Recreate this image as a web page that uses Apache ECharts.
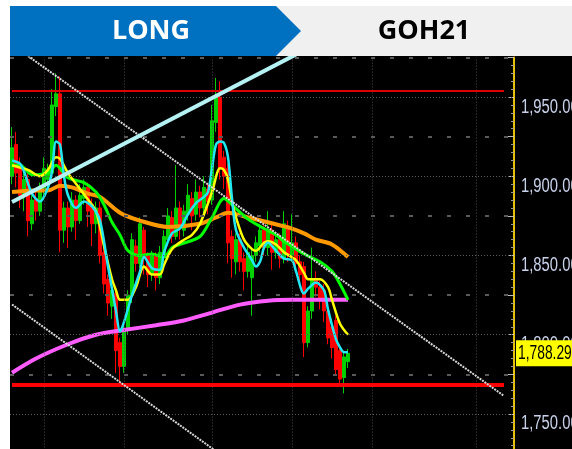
<!DOCTYPE html>
<html>
<head>
<meta charset="utf-8">
<title>GOH21</title>
<script src="https://cdn.jsdelivr.net/npm/echarts@6/dist/echarts.min.js"></script>
<style>
html,body{margin:0;padding:0;background:#fff;}
#main{width:572px;height:449px;}
</style>
</head>
<body>
<div id="main"></div>
<script>
// candles: [open, close, low, high]
var candles = [
  [1900,1918,1895,1931],[1920,1902,1893,1928],[1906,1888,1880,1912],[1888,1898,1878,1903],
  [1898,1872,1862,1902],[1870,1885,1866,1888],[1886,1878,1872,1890],[1878,1893,1875,1896],
  [1892,1905,1888,1912],[1898,1904,1890,1908],[1902,1945,1900,1955],[1944,1952,1938,1965],
  [1952,1866,1852,1963],[1866,1880,1858,1884],[1880,1868,1855,1884],[1868,1885,1865,1890],
  [1885,1872,1860,1888],[1872,1888,1870,1895],[1886,1893,1882,1898],[1893,1878,1868,1896],
  [1882,1870,1856,1886],[1870,1880,1864,1884],[1880,1850,1845,1884],[1852,1832,1826,1856],
  [1835,1820,1812,1838],[1818,1828,1810,1832],[1826,1790,1776,1830],[1795,1780,1767,1798],
  [1780,1803,1776,1806],[1803,1825,1800,1828],[1825,1860,1820,1864],[1856,1845,1840,1860],
  [1845,1870,1842,1874],[1866,1848,1838,1868],[1850,1838,1830,1852],[1838,1850,1834,1853],
  [1850,1836,1828,1852],[1836,1852,1832,1856],[1850,1862,1846,1866],[1860,1875,1856,1880],
  [1874,1862,1858,1878],[1862,1880,1860,1907],[1880,1868,1860,1884],[1866,1878,1862,1882],
  [1876,1888,1872,1895],[1886,1875,1866,1890],[1876,1890,1872,1898],[1890,1880,1874,1894],
  [1880,1893,1876,1900],[1892,1884,1876,1896],[1885,1935,1882,1945],[1934,1950,1928,1962],
  [1950,1905,1898,1960],[1912,1900,1892,1916],[1905,1858,1845,1908],[1862,1848,1836,1866],
  [1846,1860,1838,1864],[1860,1846,1840,1864],[1848,1840,1828,1852],[1840,1852,1836,1856],
  [1836,1850,1812,1854],[1850,1858,1846,1862],[1856,1866,1852,1870],[1866,1855,1850,1870],
  [1855,1866,1850,1878],[1866,1852,1841,1870],[1852,1860,1848,1864],[1860,1848,1842,1864],
  [1848,1870,1845,1878],[1868,1850,1846,1872],[1850,1858,1846,1876],[1858,1845,1840,1862],
  [1846,1838,1830,1850],[1843,1795,1786,1846],[1795,1815,1792,1818],[1815,1835,1810,1855],
  [1835,1830,1824,1840],[1830,1822,1816,1834],[1828,1815,1808,1832],[1815,1798,1794,1820],
  [1805,1792,1785,1810],[1809,1778,1774,1812],[1790,1772,1768,1794],[1773,1786,1763,1790],
  [1783,1788.29,1779,1791]
];

// moving averages: [slot, price]
var maFast = [[0,1910],[2,1908],[3,1903],[5,1889],[7,1884],[9,1893],[10,1903],[11,1922],[12,1920],[13,1900],
  [14,1888],[16,1880],[18,1884],[20,1881],[22,1872],[24,1843],[26,1815],[27,1802],[28,1808],[30,1825],
  [32,1840],[33,1849],[35,1842],[37,1841],[38,1852],[40,1864],[42,1867],[44,1876],[46,1883],[48,1887],
  [49,1890],[50,1905],[51,1920],[52,1922],[53,1921],[54,1912],[55,1886],[56,1866],[58,1855],[60,1847],
  [61,1843],[62,1846],[63,1855],[64,1858],[66,1853],[68,1848],[70,1847],[71,1840],[73,1826],[74,1829],
  [76,1833],[78,1828],[79,1816],[81,1797],[82,1792],[83,1789],[84,1789]];
var maYellow = [[0,1907],[4,1904],[7,1900],[9,1904],[11,1912],[12,1911],[14,1902],[17,1892],[20,1882],[21,1878],
  [22,1868],[23,1856],[25,1835],[26,1828],[27,1822],[29,1822],[31,1830],[33,1843],[35,1838],[37,1838],
  [38,1844],[40,1854],[43,1860],[45,1863],[47,1870],[50,1890],[52,1905],[53,1904],[54,1898],[55,1884],
  [56,1874],[58,1860],[60,1854],[61,1853],[63,1858],[64,1859],[66,1857],[68,1852],[71,1847],[73,1839],
  [74,1835],[77,1835],[79,1830],[80,1822],[82,1807],[84,1800]];
var maGreen = [[0,1907],[2,1907],[5,1901],[9,1902],[11,1907],[14,1899],[18,1896],[21,1890],[23,1882],[25,1871],
  [27,1863],[29,1853],[32,1850],[35,1851],[38,1849],[40,1855],[42,1857],[47,1862],[50,1874],[53,1886],
  [55,1882],[59,1873],[63,1867],[66,1863],[68,1859],[73,1851],[77,1846],[80,1840],[82,1832],[84,1822]];
var maOrange = [[0,1890],[5,1891],[9,1891],[12,1894],[15,1893],[19,1889],[22,1887],[27,1877],[32,1872],[39,1868],
  [47,1870],[51,1874],[54,1877],[59,1874],[64,1871],[70,1867],[73,1864],[76,1860],[80,1857],[84,1849]];
var maMagenta = [[0,1776],[6,1785],[14,1794],[21,1800],[28,1803],[36,1806],[43,1809],[50,1814],[57,1819],
  [64,1821.5],[70,1822],[84,1822]];

// drawn lines
var resistance = 1953.8;
var support = 1768.3;
var levelSpan = [0, 123];
var riseLine = [[0,1883.8],[71,1976.9]];
var channelTop = [[4,1975.9],[123,1761.4]];
var channelBottom = [[0,1819.1],[52,1724.7]];

// axis
var yTicks = [1750, 1800, 1850, 1900, 1950];
var minorLevels = [1775, 1825, 1875, 1925, 1975];
var dayBreaks = [8, 28, 50, 70, 90, 116];
var slotCount = 126;
var lastPrice = 1788.29;

var categories = [];
for (var i = 0; i < slotCount; i++) { categories.push('s' + i); }

// Arial Narrow look: Liberation Sans squeezed sideways
var labelFont = '20px "Liberation Sans", Arial, sans-serif';

var chartApp = {
  chart: null,
  init: function () {
    chartApp.chart = echarts.init(document.getElementById('main'));
    chartApp.chart.setOption(chartApp.buildOption());
    chartApp.priceLabels();
  },
  fmt: function (v) {
    var p = v.toFixed(2).split('.');
    p[0] = p[0].replace(/\B(?=(\d{3})+(?!\d))/g, ',');
    return p.join('.');
  },
  // a plain line between two points
  segment: function (pts, color, width, type, z) {
    return {
      type: 'line', data: pts, z: z || 6, silent: true, showSymbol: false, symbol: 'none',
      lineStyle: { color: color, width: width, type: type || 'solid' }
    };
  },
  maLine: function (pts, color, width) {
    return {
      type: 'line', data: pts, z: 4, silent: true, showSymbol: false, symbol: 'none', smooth: 0.3,
      lineStyle: { color: color, width: width }
    };
  },
  header: function () {
    return [
      { type: 'rect', shape: { x: 0, y: 0, width: 572, height: 56 }, style: { fill: '#fff' }, z: 50 },
      { type: 'rect', shape: { x: 0, y: 0, width: 10, height: 449 }, style: { fill: '#fff' }, z: 50 },
      { type: 'rect', shape: { x: 270, y: 6, width: 302, height: 50 }, style: { fill: '#f0f0f0' }, z: 51 },
      { type: 'polygon', shape: { points: [[10, 6], [276, 6], [301, 31], [276, 56], [10, 56]] },
        style: { fill: '#0070c0' }, z: 52 },
      { type: 'text', x: 151, y: 31, z: 53,
        style: { text: 'LONG', fill: '#fff', font: 'bold 27px "Open Sans", sans-serif', align: 'center', verticalAlign: 'middle' } },
      { type: 'text', x: 424, y: 31, z: 53,
        style: { text: 'GOH21', fill: '#000', font: 'bold 27px "Open Sans", sans-serif', align: 'center', verticalAlign: 'middle' } }
    ];
  },
  // axis labels + last price tag, placed with the axis scale
  priceLabels: function () {
    var chart = chartApp.chart;
    var g = chartApp.header();
    yTicks.forEach(function (v) {
      var py = chart.convertToPixel({ yAxisIndex: 0 }, v);
      g.push({ type: 'text', x: 521, y: py, scaleX: 0.74, z: 60, silent: true,
        style: { text: chartApp.fmt(v), fill: '#c8d2ea', font: labelFont, verticalAlign: 'top' } });
    });
    var tagY = chart.convertToPixel({ yAxisIndex: 0 }, lastPrice);
    g.push({ type: 'text', x: 516, y: tagY, scaleX: 0.69, z: 61, silent: true,
      style: { text: chartApp.fmt(lastPrice), fill: '#000', font: labelFont, verticalAlign: 'middle',
        backgroundColor: '#ffff00', padding: [4, 4, 2, 3] } });
    chart.setOption({ graphic: g });
  },
  gridLines: function () {
    var lines = [];
    yTicks.forEach(function (v) {
      lines.push({ yAxis: v, lineStyle: { color: '#5c5c5c', width: 1, type: [1, 2] } });
    });
    minorLevels.forEach(function (v) {
      lines.push({ yAxis: v, lineStyle: { color: '#5a5a5a', width: 2, type: [4, 15] } });
    });
    dayBreaks.forEach(function (s) {
      lines.push({ xAxis: s, lineStyle: { color: '#4c4c4c', width: 1, type: [1, 2] } });
    });
    return {
      type: 'line', data: [], z: 1, silent: true,
      markLine: { silent: true, symbol: 'none', label: { show: false }, animation: false, data: lines }
    };
  },
  buildOption: function () {
    return {
      animation: false,
      backgroundColor: '#000',
      grid: { left: 10, right: 58, top: 57.4, bottom: -4.6, outerBoundsMode: 'none', containLabel: false },
      xAxis: { type: 'category', data: categories, boundaryGap: true, show: false },
      yAxis: {
        type: 'value', position: 'right', min: 1725, max: 1975, interval: 25,
        axisLine: { show: true, lineStyle: { color: '#e6c200', width: 2 } },
        axisTick: { show: true, inside: true, length: 6, lineStyle: { color: '#bbbbbb' } },
        minorTick: { show: true, splitNumber: 5, length: 3, lineStyle: { color: '#999999' } },
        splitLine: { show: false },
        axisLabel: { show: false }
      },
      graphic: chartApp.header(),
      series: [
        chartApp.gridLines(),
        {
          type: 'candlestick', data: candles, z: 3, barWidth: 3, silent: true,
          itemStyle: { color: '#00d000', color0: '#ff0000', borderColor: '#00d000', borderColor0: '#ff0000', borderWidth: 1 }
        },
        chartApp.maLine(maMagenta, '#ff5cff', 4),
        chartApp.maLine(maOrange, '#ff9900', 4),
        chartApp.maLine(maGreen, '#00ff00', 3),
        chartApp.maLine(maYellow, '#ffff00', 2.5),
        chartApp.maLine(maFast, '#22e8f4', 2.5),
        chartApp.segment([[levelSpan[0], resistance], [levelSpan[1], resistance]], '#dd0000', 2),
        chartApp.segment([[levelSpan[0], support], [levelSpan[1], support]], '#ff0000', 4),
        chartApp.segment(channelTop, '#d8d8d8', 2, [2, 1]),
        chartApp.segment(channelBottom, '#d8d8d8', 2, [2, 1]),
        chartApp.segment(riseLine, '#b4f2f4', 4)
      ]
    };
  }
};

chartApp.init();
</script>
</body>
</html>
